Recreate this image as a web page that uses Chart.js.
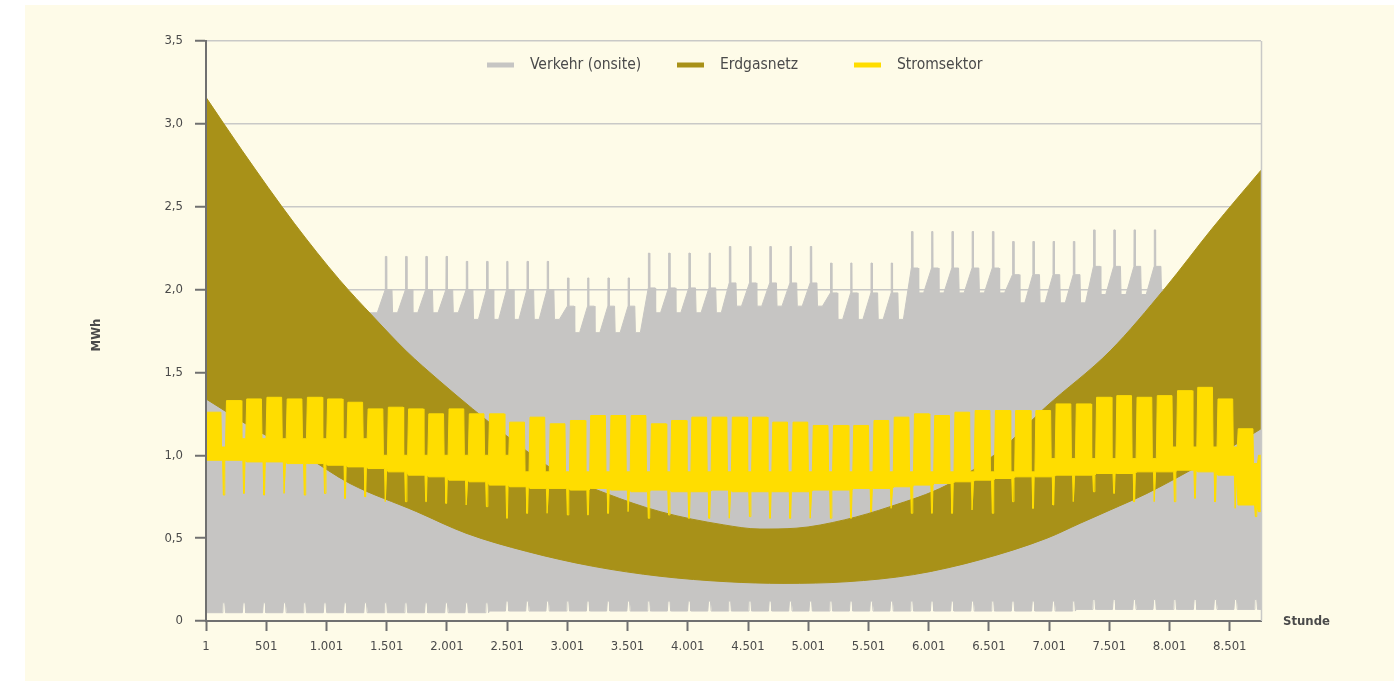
<!DOCTYPE html>
<html>
<head>
<meta charset="utf-8">
<title>Stundenwerte</title>
<script src="https://cdn.jsdelivr.net/npm/chart.js@4.4.1/dist/chart.umd.min.js"></script>
<style>
    html, body { margin: 0; padding: 0; background: #ffffff; }
    #chart { display: block; }
</style>
</head>
<body>
<canvas id="chart" width="1394" height="682"></canvas>
<script>
"use strict";

var HOURS = 8760;
var WEEK = 168;
var FONT = "'DejaVu Sans Condensed', 'Liberation Sans Narrow', sans-serif";

// Achsen
var yTickValues = [0, 0.5, 1, 1.5, 2, 2.5, 3, 3.5];
var yTickLabels = ['0', '0,5', '1,0', '1,5', '2,0', '2,5', '3,0', '3,5'];
var xTickValues = [1, 501, 1001, 1501, 2001, 2501, 3001, 3501, 4001, 4501, 5001, 5501, 6001, 6501, 7001, 7501, 8001, 8501];
var xTickLabels = ['1', '501', '1.001', '1.501', '2.001', '2.501', '3.001', '3.501', '4.001', '4.501',
                   '5.001', '5.501', '6.001', '6.501', '7.001', '7.501', '8.001', '8.501'];

var seriesNames = ['Verkehr (onsite)', 'Erdgasnetz', 'Stromsektor'];

// Erdgasnetz: obere und untere Huellkurve (Stunde -> MWh)
var gasMaxHours = [1, 300, 734, 1108, 1385, 1662, 1938, 2215, 2492, 2940, 3322, 3771, 4300, 4600, 4900, 5300, 5681, 6152, 6595, 6971, 7508, 7965, 8356, 8760];
var gasMax      = [3.16, 2.84, 2.40, 2.06, 1.84, 1.63, 1.45, 1.28, 1.12, 0.89, 0.77, 0.66, 0.58, 0.555, 0.56, 0.61, 0.69, 0.82, 1.03, 1.29, 1.63, 2.01, 2.37, 2.72];
var gasMinHours = [1, 400, 836, 1196, 1750, 2159, 2664, 3215, 3771, 4325, 4800, 5321, 5875, 6429, 6983, 7259, 7508, 7813, 8200, 8560, 8760];
var gasMin      = [1.34, 1.16, 0.99, 0.83, 0.66, 0.53, 0.42, 0.33, 0.27, 0.237, 0.227, 0.237, 0.28, 0.37, 0.50, 0.59, 0.67, 0.77, 0.92, 1.07, 1.16];

// Verkehr (onsite): Wochenwerte (Woche 0..52)
var verkehrSpitze = [1.62, 1.84, 1.84, 1.84, 1.84, 1.84, 1.84, 1.87,
                     2.20, 2.20, 2.20, 2.20,
                     2.17, 2.17, 2.17, 2.17, 2.17,
                     2.07, 2.07, 2.07, 2.07,
                     2.22, 2.22, 2.22, 2.22,
                     2.26, 2.26, 2.26, 2.26, 2.26,
                     2.16, 2.16, 2.16, 2.16,
                     2.35, 2.35, 2.35, 2.35, 2.35,
                     2.29, 2.29, 2.29, 2.29,
                     2.36, 2.36, 2.36, 2.36,
                     2.00, 2.10, 2.10, 2.10, 1.70, 1.65];
var verkehrHoch   = [1.60, 1.80, 1.80, 1.80, 1.80, 1.80, 1.80, 1.86,
                     2.00, 2.00, 2.00, 2.00,
                     2.00, 2.00, 2.00, 2.00, 2.00,
                     1.90, 1.90, 1.90, 1.90,
                     2.01, 2.01, 2.01, 2.01,
                     2.04, 2.04, 2.04, 2.04, 2.04,
                     1.98, 1.98, 1.98, 1.98,
                     2.13, 2.13, 2.13, 2.13, 2.13,
                     2.09, 2.09, 2.09, 2.09,
                     2.14, 2.14, 2.14, 2.14,
                     1.98, 2.00, 2.00, 2.00, 1.65, 1.63];
var verkehrTief   = [1.60, 1.70, 1.70, 1.70, 1.70, 1.70, 1.70, 1.86,
                     1.86, 1.86, 1.86, 1.86,
                     1.82, 1.82, 1.82, 1.82, 1.82,
                     1.74, 1.74, 1.74, 1.74,
                     1.86, 1.86, 1.86, 1.86,
                     1.90, 1.90, 1.90, 1.90, 1.90,
                     1.82, 1.82, 1.82, 1.82,
                     1.98, 1.98, 1.98, 1.98, 1.98,
                     1.92, 1.92, 1.92, 1.92,
                     1.97, 1.97, 1.97, 1.97,
                     1.92, 1.90, 1.90, 1.90, 1.60, 1.63];
var verkehrBoden   = [0.05, 0.05, 0.05, 0.05, 0.05, 0.05, 0.05, 0.05, 0.05, 0.05, 0.05, 0.05, 0.05, 0.05,
                      0.06, 0.06, 0.06, 0.06, 0.06, 0.06, 0.06, 0.06, 0.06, 0.06, 0.06, 0.06, 0.06, 0.06, 0.06,
                      0.06, 0.06, 0.06, 0.06, 0.06, 0.06, 0.06, 0.06, 0.06, 0.06, 0.06, 0.06, 0.06, 0.06,
                      0.07, 0.07, 0.07, 0.07, 0.07, 0.07, 0.07, 0.07, 0.07, 0.07];
var verkehrBodenWE = [0.11, 0.11, 0.11, 0.11, 0.11, 0.11, 0.11, 0.11, 0.11, 0.11, 0.11, 0.11, 0.11, 0.11,
                      0.12, 0.12, 0.12, 0.12, 0.12, 0.12, 0.12, 0.12, 0.12, 0.12, 0.12, 0.12, 0.12, 0.12, 0.12,
                      0.12, 0.12, 0.12, 0.12, 0.12, 0.12, 0.12, 0.12, 0.12, 0.12, 0.12, 0.12, 0.12, 0.12,
                      0.13, 0.13, 0.13, 0.13, 0.13, 0.13, 0.13, 0.13, 0.13, 0.13];

// Stromsektor: Wochenwerte (Werktage / Wochenende)
var stromTagMax = [1.26, 1.33, 1.34, 1.35, 1.34, 1.35, 1.34, 1.32, 1.28, 1.29, 1.28, 1.25, 1.28, 1.25, 1.25, 1.20,
                   1.23, 1.19, 1.21, 1.24, 1.24, 1.24, 1.19, 1.21, 1.23, 1.23, 1.23, 1.23, 1.20, 1.20, 1.18, 1.18,
                   1.18, 1.21, 1.23, 1.25, 1.24, 1.26, 1.27, 1.27, 1.27, 1.27, 1.31, 1.31, 1.35, 1.36, 1.35, 1.36,
                   1.39, 1.41, 1.34, 1.16, 1.00];
var stromWEMax  = [1.05, 1.10, 1.10, 1.10, 1.10, 1.10, 1.10, 1.10,
                   1.00, 1.00, 1.00, 1.00, 1.00, 1.00, 1.00,
                   0.90, 0.90, 0.90, 0.90, 0.90, 0.90, 0.90, 0.90, 0.90, 0.90, 0.90, 0.90, 0.90,
                   0.90, 0.90, 0.90, 0.90, 0.90, 0.90, 0.90, 0.90, 0.90, 0.90, 0.90, 0.90, 0.90,
                   0.98, 0.98, 0.98, 0.98, 0.98, 0.98,
                   1.05, 1.05, 1.05, 1.05, 0.95, 0.92];
var stromTagMin = [0.97, 0.97, 0.96, 0.96, 0.95, 0.95, 0.94, 0.93,
                   0.92, 0.90, 0.88, 0.87, 0.85, 0.84,
                   0.82, 0.81, 0.80, 0.80, 0.79, 0.80, 0.79, 0.78, 0.79, 0.78, 0.78, 0.79, 0.78, 0.78,
                   0.78, 0.78, 0.79, 0.79, 0.80, 0.80, 0.81,
                   0.82, 0.83, 0.84, 0.85, 0.86, 0.87, 0.87, 0.88, 0.88, 0.89,
                   0.89, 0.90, 0.90, 0.91, 0.90, 0.88,
                   0.70, 0.66];
var stromWEMin  = [0.76, 0.77, 0.76, 0.77, 0.76, 0.77, 0.74, 0.75, 0.72, 0.72, 0.72, 0.71, 0.70, 0.69,
                   0.62, 0.65, 0.65, 0.64, 0.64, 0.65, 0.66, 0.62, 0.64, 0.62, 0.62, 0.62, 0.63, 0.62,
                   0.62, 0.62, 0.62, 0.62, 0.66, 0.68, 0.65, 0.65, 0.65, 0.67, 0.65, 0.72, 0.68,
                   0.70, 0.72, 0.78, 0.77, 0.72, 0.72, 0.72, 0.74, 0.72, 0.68, 0.63, 0.65];

var colors = {
    verkehr: '#c6c5c3',
    gas: '#a89118',
    strom: '#ffdd00',
    panel: '#fefbe8',
    text: '#4a4a4a',
    axis: '#707070',
    grid: '#c9c9c7'
};

// Punkte nur bis Stunde 8760, letzter Wert bis zum Ende gezogen
function bisEnde(pts) {
    var out = pts.filter(function (p) { return p.x <= HOURS; });
    if (out[out.length - 1].x < HOURS) {
        out.push({ x: HOURS, y: out[out.length - 1].y });
    }
    return out;
}

function kurve(hours, values) {
    return hours.map(function (h, i) { return { x: h, y: values[i] }; });
}

function verkehrOben() {
    var pts = [{ x: 1, y: verkehrTief[0] }];
    for (var k = 0; k < verkehrSpitze.length; k++) {
        var s = 1 + k * WEEK + 150;
        pts.push({ x: s - 6, y: verkehrHoch[k] }, { x: s - 5, y: verkehrSpitze[k] },
                 { x: s + 5, y: verkehrSpitze[k] }, { x: s + 6, y: verkehrHoch[k] },
                 { x: s + 50, y: verkehrHoch[k] }, { x: s + 55, y: verkehrTief[k] },
                 { x: s + 96, y: verkehrTief[k] });
    }
    return bisEnde(pts);
}

function verkehrUnten() {
    var pts = [];
    for (var k = 0; k < verkehrBoden.length; k++) {
        var w = 1 + k * WEEK;
        pts.push({ x: w, y: verkehrBoden[k] }, { x: w + 134, y: verkehrBoden[k] },
                 { x: w + 140, y: verkehrBodenWE[k] }, { x: w + 156, y: verkehrBodenWE[k] },
                 { x: w + 162, y: verkehrBoden[k] });
    }
    return bisEnde(pts);
}

function stromOben() {
    var pts = [];
    for (var k = 0; k < stromTagMax.length; k++) {
        var w = 1 + k * WEEK;
        pts.push({ x: w + 2, y: stromTagMax[k] }, { x: w + 124, y: stromTagMax[k] },
                 { x: w + 129, y: stromWEMax[k] }, { x: w + 162, y: stromWEMax[k] });
    }
    return bisEnde(pts);
}

function stromUnten() {
    var pts = [];
    for (var k = 0; k < stromTagMin.length; k++) {
        var w = 1 + k * WEEK;
        pts.push({ x: w, y: stromTagMin[k] }, { x: w + 138, y: stromTagMin[k] },
                 { x: w + 144, y: stromWEMin[k] }, { x: w + 150, y: stromWEMin[k] },
                 { x: w + 156, y: stromTagMin[k] });
    }
    return bisEnde(pts);
}

function band(label, data, color, fillTarget, order, smooth) {
    return {
        label: label,
        data: data,
        borderColor: color,
        backgroundColor: color,
        borderWidth: 1,
        pointRadius: 0,
        fill: fillTarget === null ? false : fillTarget,
        order: order,
        tension: 0,
        cubicInterpolationMode: smooth ? 'monotone' : 'default'
    };
}

// Hintergrund, Rahmen, Legende und Achsentitel
var deko = {
    id: 'deko',
    beforeDraw: function (chart) {
        var ctx = chart.ctx;
        ctx.save();
        ctx.fillStyle = '#ffffff';
        ctx.fillRect(0, 0, chart.width, chart.height);
        ctx.fillStyle = colors.panel;
        ctx.fillRect(25, 5, chart.width - 25, 676);
        ctx.restore();
    },
    afterDatasetsDraw: function (chart) {
        var ctx = chart.ctx;
        var a = chart.chartArea;
        ctx.save();
        ctx.strokeStyle = colors.grid;
        ctx.lineWidth = 1.5;
        ctx.beginPath();
        ctx.moveTo(a.right + 0.5, a.top);
        ctx.lineTo(a.right + 0.5, a.bottom);
        ctx.stroke();
        ctx.strokeStyle = colors.axis;
        ctx.lineWidth = 2;
        ctx.beginPath();
        ctx.moveTo(a.left, a.top - 1);
        ctx.lineTo(a.left, a.bottom + 1);
        ctx.stroke();
        ctx.restore();
    },
    afterDraw: function (chart) {
        var ctx = chart.ctx;
        ctx.save();
        // Legende
        var legend = [
            { name: seriesNames[0], color: colors.verkehr, x: 487 },
            { name: seriesNames[1], color: colors.gas, x: 677 },
            { name: seriesNames[2], color: colors.strom, x: 854 }
        ];
        ctx.font = '15.5px ' + FONT;
        ctx.textBaseline = 'middle';
        ctx.textAlign = 'left';
        legend.forEach(function (item) {
            ctx.fillStyle = item.color;
            ctx.fillRect(item.x, 62.5, 27, 5);
            ctx.fillStyle = colors.text;
            ctx.fillText(item.name, item.x + 43, 65);
        });
        // Achsentitel
        ctx.font = 'bold 13px ' + FONT;
        ctx.fillStyle = colors.text;
        ctx.textAlign = 'left';
        ctx.fillText('Stunde', 1283, 622);
        ctx.translate(97, 335);
        ctx.rotate(-Math.PI / 2);
        ctx.textAlign = 'center';
        ctx.fillText('MWh', 0, 0);
        ctx.restore();
    }
};

var ctx = document.getElementById('chart').getContext('2d');

new Chart(ctx, {
    type: 'line',
    data: {
        datasets: [
            band(seriesNames[0], verkehrOben(), colors.verkehr, 3, 3, false),
            band(seriesNames[1], kurve(gasMaxHours, gasMax), colors.gas, 4, 2, true),
            band(seriesNames[2], stromOben(), colors.strom, 5, 1, false),
            band('verkehr_min', verkehrUnten(), colors.verkehr, null, 3, false),
            band('gas_min', kurve(gasMinHours, gasMin), colors.gas, null, 2, true),
            band('strom_min', stromUnten(), colors.strom, null, 1, false)
        ]
    },
    options: {
        responsive: false,
        animation: false,
        events: [],
        layout: { padding: { left: 0, right: 133, top: 41, bottom: 0 } },
        plugins: {
            legend: { display: false },
            tooltip: { enabled: false }
        },
        scales: {
            x: {
                type: 'linear',
                min: 1,
                max: HOURS,
                afterBuildTicks: function (scale) {
                    scale.ticks = xTickValues.map(function (v) { return { value: v }; });
                },
                afterFit: function (scale) { scale.height = 61; },
                grid: {
                    drawOnChartArea: false,
                    drawTicks: true,
                    tickLength: 10,
                    tickColor: colors.axis,
                    tickWidth: 2
                },
                border: { display: true, color: colors.axis, width: 2 },
                ticks: {
                    autoSkip: false,
                    maxRotation: 0,
                    padding: 8,
                    color: colors.text,
                    font: { family: FONT, size: 13 },
                    callback: function (value, index) { return xTickLabels[index]; }
                }
            },
            y: {
                min: 0,
                max: 3.5,
                afterBuildTicks: function (scale) {
                    scale.ticks = yTickValues.map(function (v) { return { value: v }; });
                },
                afterFit: function (scale) { scale.width = 206; },
                grid: {
                    color: colors.grid,
                    lineWidth: 1.5,
                    drawTicks: true,
                    tickLength: 11,
                    tickColor: colors.axis,
                    tickWidth: 2
                },
                border: { display: true, color: colors.axis, width: 2 },
                ticks: {
                    padding: 12,
                    color: colors.text,
                    font: { family: FONT, size: 13 },
                    callback: function (value, index) { return yTickLabels[index]; }
                }
            }
        }
    },
    plugins: [deko]
});
</script>
</body>
</html>
